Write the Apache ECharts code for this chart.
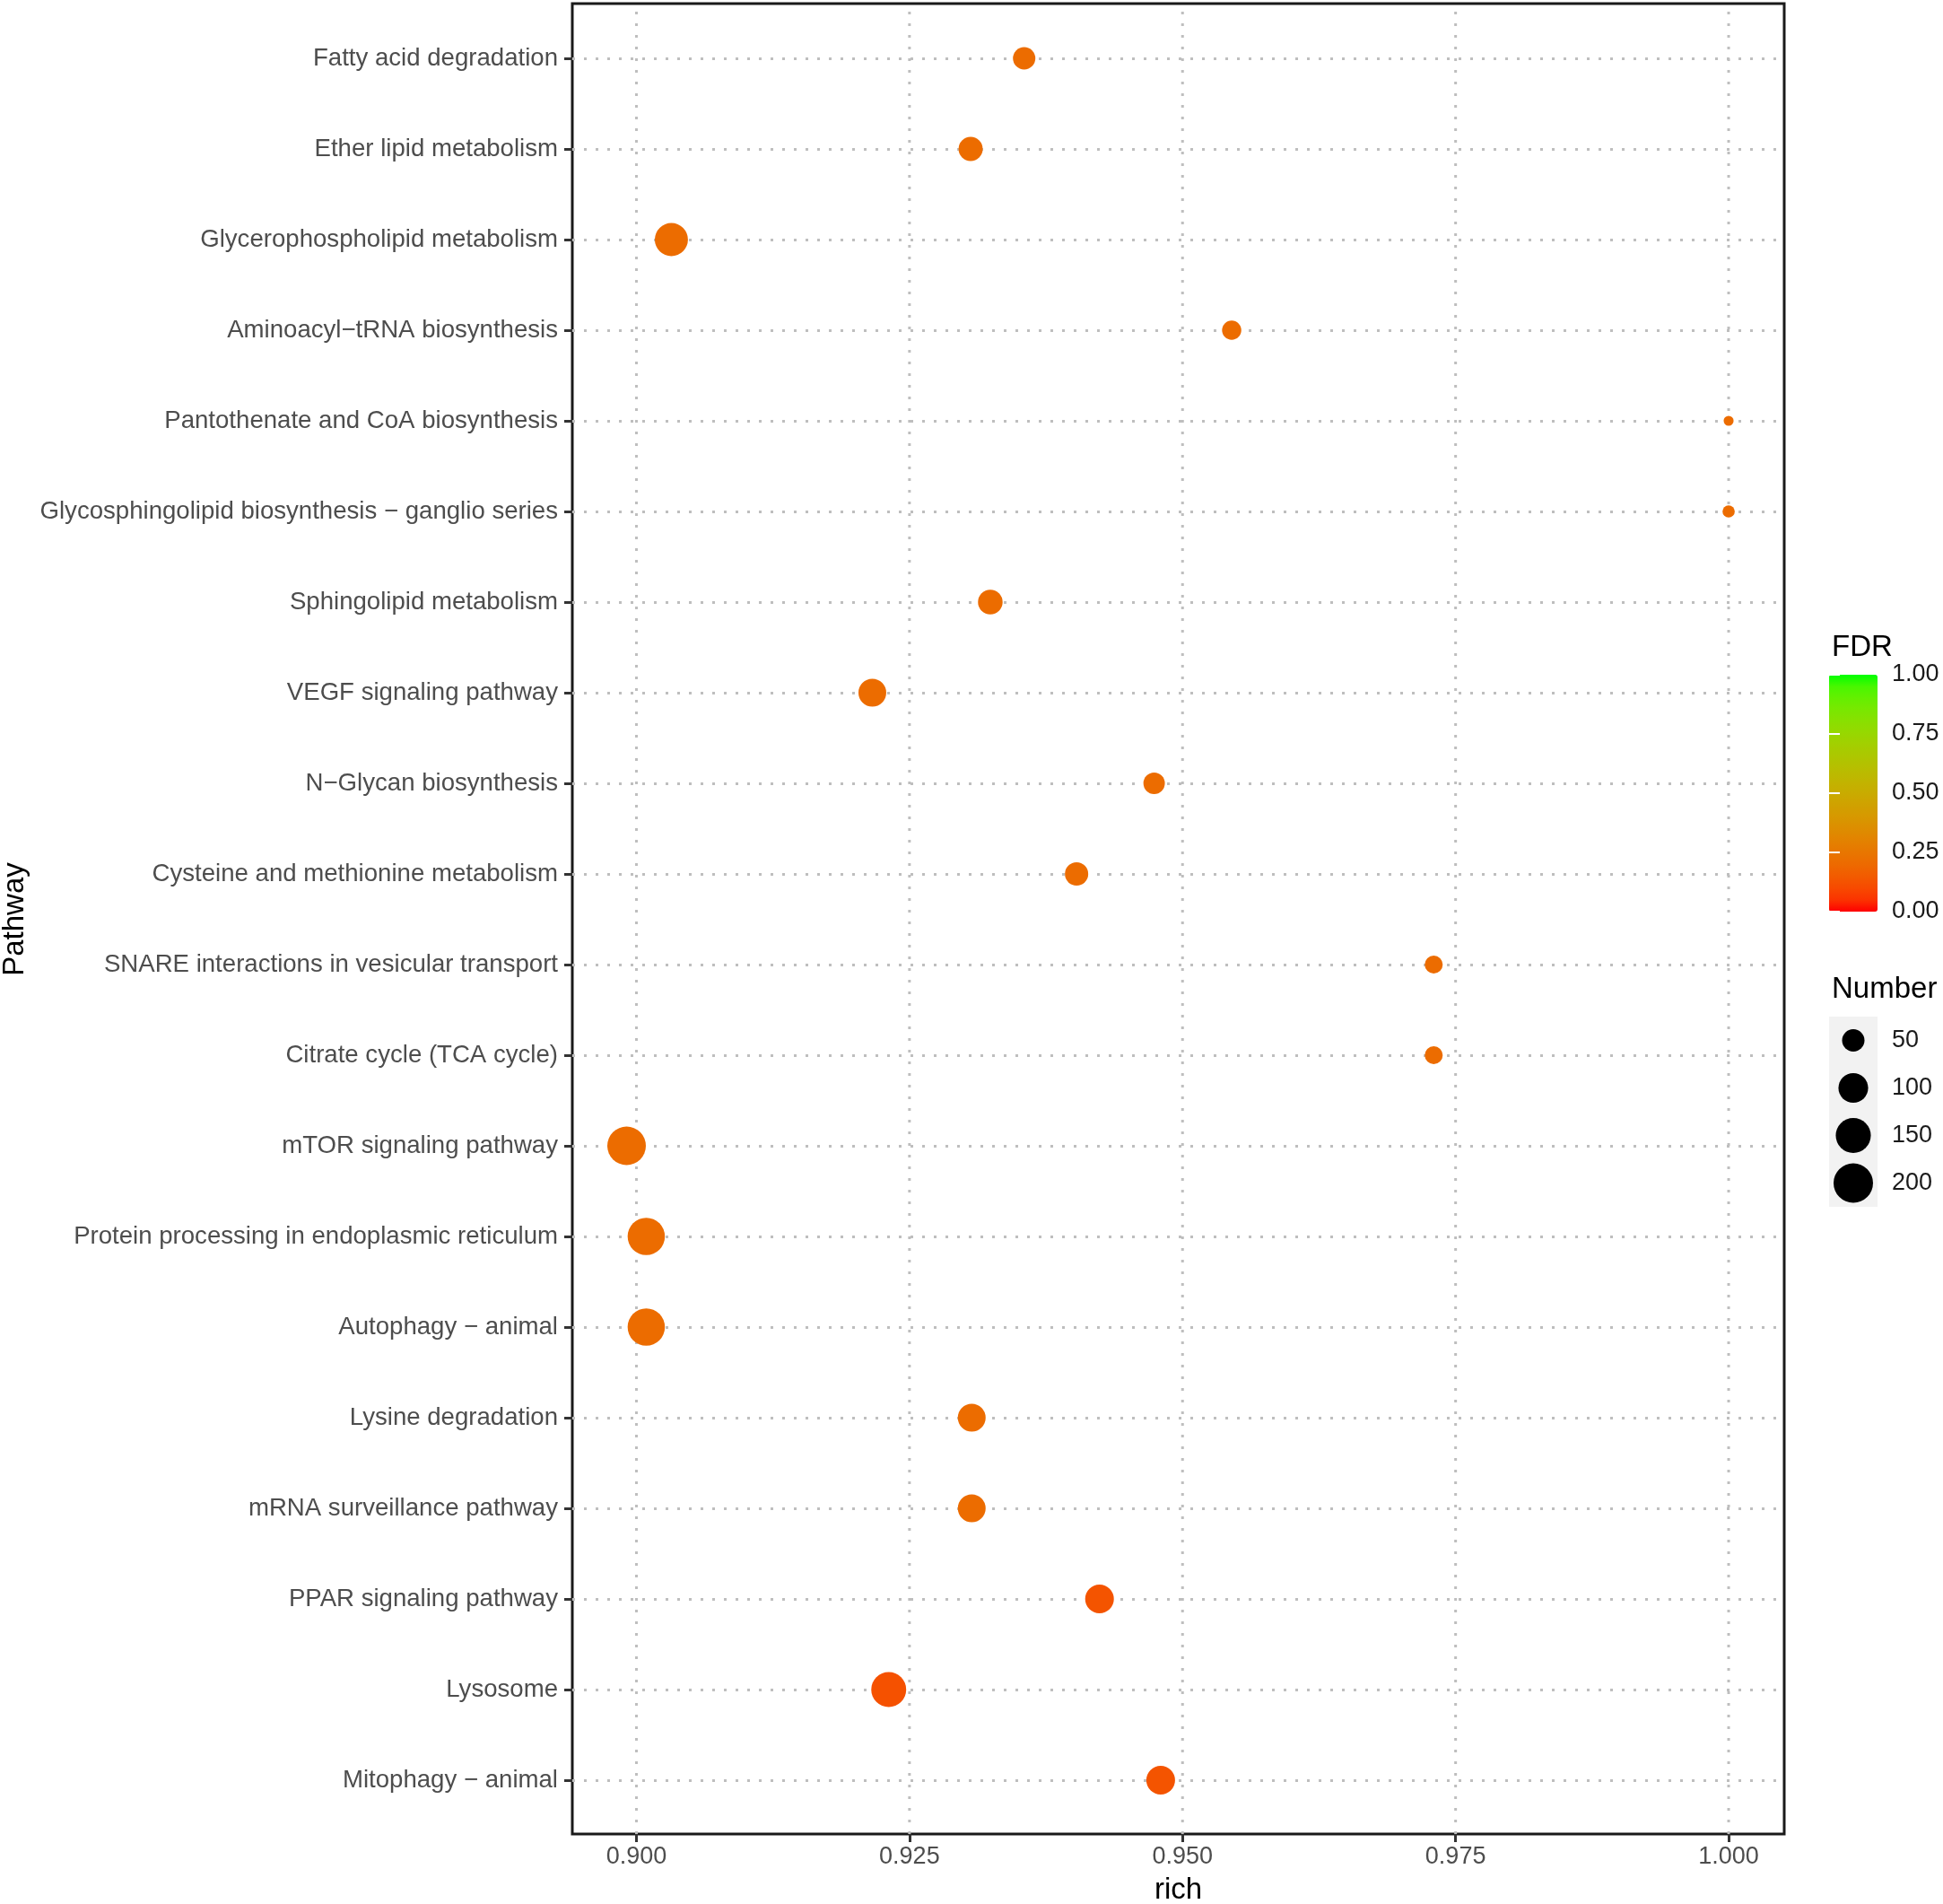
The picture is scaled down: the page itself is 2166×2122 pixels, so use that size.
<!DOCTYPE html>
<html>
<head>
<meta charset="utf-8">
<title>KEGG pathway enrichment</title>
<script src="https://cdn.jsdelivr.net/npm/echarts@6.0.0/dist/echarts.min.js"></script>
<style>
    html, body { margin: 0; padding: 0; background: #fff; }
    #main { width: 2166px; height: 2122px; }
</style>
</head>
<body>
<div id="main"></div>
<script>
// 数据：通路名称（自上而下）
var pathways = [
    "Fatty acid degradation",
    "Ether lipid metabolism",
    "Glycerophospholipid metabolism",
    "Aminoacyl\u2212tRNA biosynthesis",
    "Pantothenate and CoA biosynthesis",
    "Glycosphingolipid biosynthesis \u2212 ganglio series",
    "Sphingolipid metabolism",
    "VEGF signaling pathway",
    "N\u2212Glycan biosynthesis",
    "Cysteine and methionine metabolism",
    "SNARE interactions in vesicular transport",
    "Citrate cycle (TCA cycle)",
    "mTOR signaling pathway",
    "Protein processing in endoplasmic reticulum",
    "Autophagy \u2212 animal",
    "Lysine degradation",
    "mRNA surveillance pathway",
    "PPAR signaling pathway",
    "Lysosome",
    "Mitophagy \u2212 animal"
];
// rich 值
var richValues = [0.9355, 0.9306, 0.9032, 0.9545, 1.0, 1.0, 0.9324, 0.9216, 0.9474, 0.9403,
    0.9730, 0.9730, 0.8991, 0.9009, 0.9009, 0.9307, 0.9307, 0.9424, 0.9231, 0.9480];
// 基因数 Number
var numberValues = [50, 60, 131, 35, 14, 16, 63, 85, 45, 55,
    30, 30, 189, 174, 174, 85, 85, 92, 149, 92];
// FDR
var fdrValues = [0.21, 0.21, 0.21, 0.21, 0.21, 0.21, 0.21, 0.21, 0.21, 0.21,
    0.21, 0.21, 0.21, 0.21, 0.21, 0.21, 0.21, 0.13, 0.12, 0.13];
// 刻度
var richTicks = [0.900, 0.925, 0.950, 0.975, 1.000];
var numberBreaks = [50, 100, 150, 200];

(function () {
    var myChart = echarts.init(document.getElementById('main'));

    var FONT = '"Liberation Sans", Arial, Helvetica, sans-serif';
    var gridLine = { color: '#BEBEBE', width: 3, type: [3, 10] };

    // 点大小（面积映射），单位像素
    function sizeOf(n) {
        return 10 + 2.49 * Math.sqrt(Math.max(n - 13.8, 0));
    }

    // red -> green 在 Lab 空间插值（同 ggplot 的 scale_colour_gradient）
    function toLin(c) { c /= 255; return c <= 0.04045 ? c / 12.92 : Math.pow((c + 0.055) / 1.055, 2.4); }
    function fromLin(c) {
        c = c <= 0.0031308 ? 12.92 * c : 1.055 * Math.pow(c, 1 / 2.4) - 0.055;
        return Math.round(Math.min(1, Math.max(0, c)) * 255);
    }
    function rgb2lab(r, g, b) {
        r = toLin(r); g = toLin(g); b = toLin(b);
        var x = (0.4124 * r + 0.3576 * g + 0.1805 * b) / 0.95047;
        var y = 0.2126 * r + 0.7152 * g + 0.0722 * b;
        var z = (0.0193 * r + 0.1192 * g + 0.9505 * b) / 1.08883;
        var f = function (t) { return t > 0.008856 ? Math.cbrt(t) : 7.787 * t + 16 / 116; };
        return [116 * f(y) - 16, 500 * (f(x) - f(y)), 200 * (f(y) - f(z))];
    }
    function lab2rgb(L, a, b) {
        var fy = (L + 16) / 116, fx = fy + a / 500, fz = fy - b / 200;
        var inv = function (t) { return t > 6 / 29 ? t * t * t : 3 * (6 / 29) * (6 / 29) * (t - 4 / 29); };
        var x = 0.95047 * inv(fx), y = inv(fy), z = 1.08883 * inv(fz);
        var r = 3.2406 * x - 1.5372 * y - 0.4986 * z;
        var g = -0.9689 * x + 1.8758 * y + 0.0415 * z;
        var bb = 0.0557 * x - 0.2040 * y + 1.0570 * z;
        return 'rgb(' + fromLin(r) + ',' + fromLin(g) + ',' + fromLin(bb) + ')';
    }
    var lo = rgb2lab(255, 0, 0), hi = rgb2lab(0, 255, 0);
    var ramp = [];
    for (var i = 0; i <= 20; i++) {
        var t = i / 20;
        ramp.push(lab2rgb(lo[0] + (hi[0] - lo[0]) * t, lo[1] + (hi[1] - lo[1]) * t, lo[2] + (hi[2] - lo[2]) * t));
    }

    var points = pathways.map(function (p, i) {
        return [richValues[i], p, numberValues[i], fdrValues[i]];
    });

    // 竖向网格线：每个刻度一条 line series（y 取 0~1 全高）
    var vLines = richTicks.map(function (v) {
        return {
            type: 'line', xAxisIndex: 0, yAxisIndex: 0, silent: true, z: 1,
            symbol: 'none', lineStyle: gridLine,
            data: [[v, 0], [v, 1]]
        };
    });

    var option = {
        animation: false,
        backgroundColor: '#fff',
        textStyle: { fontFamily: FONT },
        grid: [
            // 0 面板边框 + x 轴
            { left: 638, top: 4, width: 1351, height: 2040, show: true, borderColor: '#1A1A1A', borderWidth: 3, backgroundColor: 'transparent', outerBoundsMode: 'none' },
            // 1 通路点（类别中心到中心）
            { left: 638, top: 65, width: 1351, height: 1919, outerBoundsMode: 'none' },
            // 2 FDR 色条
            { left: 2039, top: 752, width: 54, height: 264, outerBoundsMode: 'none' },
            // 3 Number 图例
            { left: 2039, top: 1133, width: 54, height: 212, show: true, backgroundColor: '#F2F2F2', borderWidth: 0, outerBoundsMode: 'none' }
        ],
        xAxis: [
            {
                gridIndex: 0, type: 'value', min: 0.89413, max: 1.00509,
                name: 'rich', nameLocation: 'middle', nameGap: 46, nameMoveOverlap: false,
                nameTextStyle: { color: '#000', fontSize: 33, fontFamily: FONT },
                axisLine: { show: false },
                axisTick: { show: true, customValues: richTicks, length: 9, lineStyle: { color: '#333', width: 3 } },
                axisLabel: {
                    customValues: richTicks, margin: 12, color: '#4D4D4D', fontSize: 27, fontFamily: FONT,
                    formatter: function (v) { return v.toFixed(3); }
                },
                splitLine: { show: false }
            },
            { gridIndex: 1, type: 'value', min: 0.89413, max: 1.00509, show: false },
            { gridIndex: 2, type: 'value', min: 0, max: 1, show: false },
            { gridIndex: 3, type: 'value', min: -1, max: 1, show: false }
        ],
        yAxis: [
            { gridIndex: 0, type: 'value', min: 0, max: 1, show: false },
            {
                gridIndex: 1, type: 'category', data: pathways, inverse: true, boundaryGap: false,
                name: 'Pathway', nameLocation: 'middle', nameRotate: 90, nameGap: 605, nameMoveOverlap: false,
                nameTextStyle: { color: '#000', fontSize: 33, fontFamily: FONT },
                axisLine: { show: false },
                axisTick: { show: true, length: 9, interval: 0, lineStyle: { color: '#333', width: 3 } },
                axisLabel: { interval: 0, margin: 16, color: '#4D4D4D', fontSize: 27.6, fontFamily: FONT },
                splitLine: { show: true, interval: 0, lineStyle: gridLine }
            },
            // 色条刻度（右侧标签）
            {
                gridIndex: 2, type: 'value', min: 0, max: 1, interval: 0.25, position: 'right', z: 10,
                axisLine: { show: false },
                axisTick: { show: true, inside: true, length: 12, lineStyle: { color: '#fff', width: 2 } },
                axisLabel: { margin: 16, color: '#1A1A1A', fontSize: 27, fontFamily: FONT, formatter: function (v) { return v.toFixed(2); } },
                splitLine: { show: false }
            },
            // 色条刻度（左侧）
            {
                gridIndex: 2, type: 'value', min: 0, max: 1, interval: 0.25, position: 'left', z: 10,
                axisLine: { show: false },
                axisTick: { show: true, inside: true, length: 12, lineStyle: { color: '#fff', width: 2 } },
                axisLabel: { show: false },
                splitLine: { show: false }
            },
            // Number 图例
            {
                gridIndex: 3, type: 'category', data: numberBreaks.map(String), inverse: true, position: 'right',
                axisLine: { show: false }, axisTick: { show: false },
                axisLabel: { margin: 16, color: '#1A1A1A', fontSize: 27, fontFamily: FONT },
                splitLine: { show: false }
            }
        ],
        visualMap: {
            type: 'continuous', min: 0, max: 1, dimension: 3, seriesIndex: vLines.length,
            show: true, calculable: false, orient: 'vertical',
            left: 2039, top: 752, itemWidth: 54, itemHeight: 264, padding: 0,
            text: null, showLabel: false, hoverLink: false,
            inRange: { color: ramp }
        },
        graphic: [
            { type: 'text', x: 2042, y: 722, style: { text: 'FDR', font: '33px ' + FONT, fill: '#000', verticalAlign: 'middle' } },
            { type: 'text', x: 2042, y: 1103, style: { text: 'Number', font: '33px ' + FONT, fill: '#000', verticalAlign: 'middle' } }
        ],
        series: vLines.concat([
            {
                type: 'scatter', xAxisIndex: 1, yAxisIndex: 1, z: 5,
                data: points,
                symbolSize: function (val) { return sizeOf(val[2]); },
                itemStyle: { opacity: 1 }
            },
            {
                type: 'scatter', xAxisIndex: 3, yAxisIndex: 4, z: 5,
                data: numberBreaks.map(function (v) { return [0, String(v), v]; }),
                symbolSize: function (val) { return sizeOf(val[2]); },
                itemStyle: { color: '#000', opacity: 1 }
            }
        ])
    };
    myChart.setOption(option);
    window.addEventListener('resize', function () {
        myChart.resize();
    });
})();
</script>
</body>
</html>
